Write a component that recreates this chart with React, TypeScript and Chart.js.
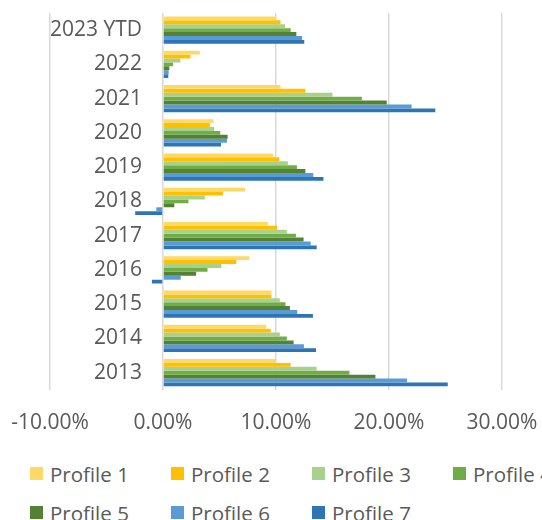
import React, { useEffect, useRef } from "react";
import { Chart, registerables } from "chart.js";

Chart.register(...registerables);

const categories = ["2013", "2014", "2015", "2016", "2017", "2018", "2019", "2020", "2021", "2022", "2023 YTD"];

const seriesNames = ["Profile 1", "Profile 2", "Profile 3", "Profile 4", "Profile 5", "Profile 6", "Profile 7"];
const seriesColors = ["#FFD966", "#FFC000", "#A9D18E", "#70AD47", "#548235", "#5B9BD5", "#2E75B6"];

const profile1 = [9.96, 9.13, 9.6, 7.64, 9.3, 7.26, 9.75, 4.47, 10.4, 3.26, 10.0];
const profile2 = [11.3, 9.54, 9.6, 6.49, 10.1, 5.3, 10.3, 4.15, 12.6, 2.43, 10.4];
const profile3 = [13.6, 10.34, 10.34, 5.16, 10.96, 3.7, 11.05, 4.53, 15.0, 1.54, 10.8];
const profile4 = [16.5, 10.96, 10.84, 3.94, 11.76, 2.25, 11.85, 5.07, 17.6, 0.89, 11.3];
const profile5 = [18.8, 11.56, 11.23, 2.93, 12.44, 1.0, 12.6, 5.72, 19.8, 0.56, 11.8];
const profile6 = [21.6, 12.47, 11.88, 1.57, 13.07, -0.59, 13.3, 5.66, 22.0, 0.5, 12.3];
const profile7 = [25.2, 13.54, 13.27, -0.98, 13.6, -2.46, 14.2, 5.13, 24.1, 0.47, 12.5];

const seriesValues = [profile1, profile2, profile3, profile4, profile5, profile6, profile7];

const xMin = -10;
const xMax = 30;
const xStep = 10;

const FONT = "'Open Sans', 'Noto Sans', sans-serif";
const TEXT = "#595959";
const FONT_SIZE = 21;

export default function App() {
  const ref = useRef<HTMLCanvasElement | null>(null);

  useEffect(() => {
    if (!ref.current) return;
    const chart = new Chart(ref.current, {
      type: "bar",
      data: {
        labels: categories,
        datasets: seriesNames.map((name, i) => ({
          label: name,
          data: seriesValues[i],
          backgroundColor: seriesColors[i],
          borderWidth: 0,
          categoryPercentage: 0.8,
          barPercentage: 1.0,
        })),
      },
      options: {
        indexAxis: "y",
        animation: false,
        responsive: false,
        maintainAspectRatio: false,
        layout: { padding: { left: 50, right: 40, top: 13, bottom: 4 } },
        plugins: {
          legend: { display: false },
          tooltip: { enabled: false },
        },
        scales: {
          x: {
            min: xMin,
            max: xMax,
            ticks: {
              stepSize: xStep,
              color: TEXT,
              font: { family: FONT, size: FONT_SIZE },
              padding: 0,
              callback: (v: any) => Number(v).toFixed(2) + "%",
            },
            grid: {
              color: "#D9D9D9",
              lineWidth: 1.5,
              drawTicks: true,
              tickLength: 21,
              tickColor: "rgba(0,0,0,0)",
            },
            border: { display: false },
          },
          y: {
            reverse: true,
            ticks: {
              mirror: true,
              crossAlign: "far",
              padding: 0,
              color: TEXT,
              font: { family: FONT, size: FONT_SIZE },
            },
            grid: { display: false, drawTicks: false },
            border: { display: false },
          },
        },
      },
    });
    return () => chart.destroy();
  }, []);

  const rows = [seriesNames.slice(0, 4), seriesNames.slice(4)];

  return (
    <div style={{ position: "absolute", left: 0, top: 0, width: 542, height: 520, overflow: "hidden", background: "#fff" }}>
      <canvas ref={ref} width={542} height={440} style={{ display: "block", width: 542, height: 440 }} />
      <div style={{ position: "absolute", left: 30, top: 454, width: 600, fontFamily: FONT, fontSize: 20.5, color: TEXT }}>
        {rows.map((row, r) => (
          <div key={r} style={{ display: "flex", height: 39, alignItems: "center" }}>
            {row.map((name) => {
              const i = seriesNames.indexOf(name);
              return (
                <div key={name} style={{ flex: "none", width: 141, display: "flex", alignItems: "center", whiteSpace: "nowrap" }}>
                  <span style={{ display: "inline-block", width: 13, height: 13, background: seriesColors[i], marginRight: 7 }} />
                  <span>{name}</span>
                </div>
              );
            })}
          </div>
        ))}
      </div>
    </div>
  );
}
